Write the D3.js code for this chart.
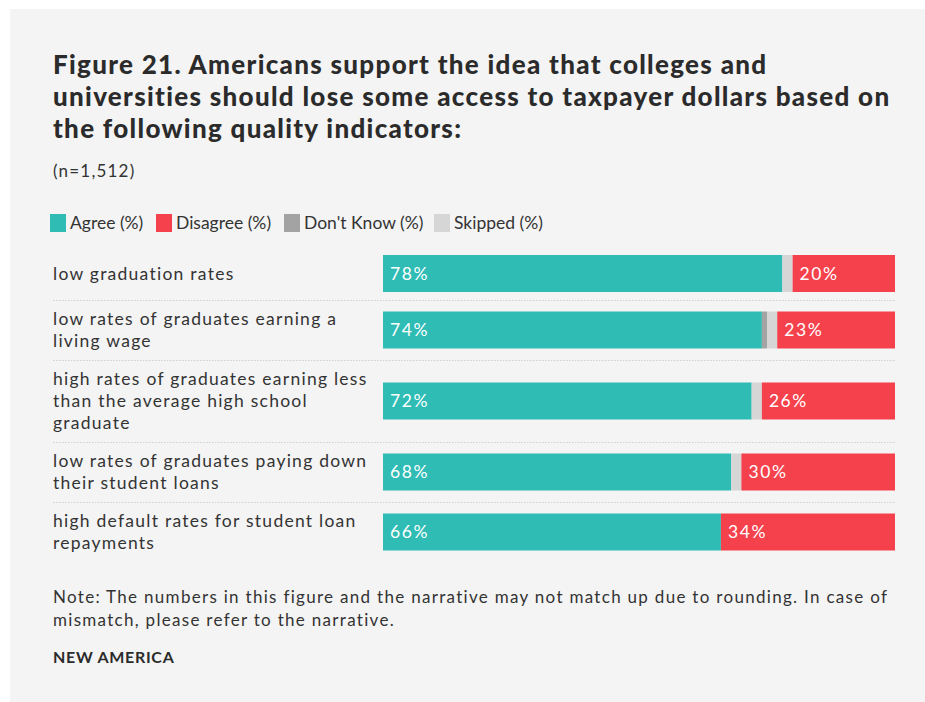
<!DOCTYPE html>
<html>
<head>
<meta charset="utf-8">
<script src="https://cdn.jsdelivr.net/npm/d3@7"></script>
<style>
  html, body { margin: 0; padding: 0; background: #ffffff; }
  svg { display: block; }
  text { font-family: Lato, "Noto Sans", sans-serif; }
</style>
</head>
<body>
<svg id="chart" width="925" height="702"></svg>
<script>
// Survey indicators (label lines separated by "\n")
const categories = [
  "low graduation rates",
  "low rates of graduates earning a\nliving wage",
  "high rates of graduates earning less\nthan the average high school\ngraduate",
  "low rates of graduates paying down\ntheir student loans",
  "high default rates for student loan\nrepayments"
];
const agree     = [78, 74, 72, 68, 66];
const dontKnow  = [0, 1, 0, 0, 0];
const skipped   = [2, 2, 2, 2, 0];
const disagree  = [20, 23, 26, 30, 34];

const seriesNames = ["Agree (%)", "Disagree (%)", "Don't Know (%)", "Skipped (%)"];
const seriesColors = ["#2ebcb4", "#f5414c", "#a3a3a3", "#d6d6d6"];

const titleLines = [
  "Figure 21. Americans support the idea that colleges and",
  "universities should lose some access to taxpayer dollars based on",
  "the following quality indicators:"
];
const subtitle = "(n=1,512)";
const noteLines = [
  "Note: The numbers in this figure and the narrative may not match up due to rounding. In case of",
  "mismatch, please refer to the narrative."
];
const source = "NEW AMERICA";

const svg = d3.select("#chart");
const textColor = "#333333";

// background panel
svg.append("rect").attr("x", 10).attr("y", 9).attr("width", 915).attr("height", 693).attr("fill", "#f4f4f4");

// title
svg.append("g").selectAll("text").data(titleLines).join("text")
  .attr("x", 53).attr("y", (d, i) => 74 + i * 32)
  .attr("fill", "#2b2b2b").attr("font-size", 26).attr("font-weight", 900)
  .attr("letter-spacing", 1.3)
  .text(d => d);

svg.append("text").attr("x", 53).attr("y", 177)
  .attr("fill", textColor).attr("font-size", 17).attr("letter-spacing", 1.2)
  .text(subtitle);

// legend
const legendX = [50, 156, 284, 434];
const legend = svg.append("g").selectAll("g").data(seriesNames).join("g")
  .attr("transform", (d, i) => `translate(${legendX[i]},214)`);
legend.append("rect").attr("width", 16).attr("height", 18).attr("fill", (d, i) => seriesColors[i]);
legend.append("text").attr("x", 20).attr("y", 15)
  .attr("fill", textColor).attr("font-size", 17.5).attr("letter-spacing", 0)
  .text(d => d);

// row layout: height depends on the number of label lines
const lineH = 22, barH = 37, rowPad = 16, rowsTop = 247;
const rows = categories.map((c, i) => {
  const lines = c.split("\n");
  return { i, lines, h: Math.max(barH, lines.length * lineH) + rowPad };
});
let acc = rowsTop;
rows.forEach(r => { r.y0 = acc; acc += r.h; r.cy = r.y0 + r.h / 2; });

const x = d3.scaleLinear().domain([0, 100]).range([383, 895]);

// separators between rows
svg.append("g").selectAll("line").data(rows.slice(1)).join("line")
  .attr("x1", 53).attr("x2", 895)
  .attr("y1", d => d.y0 + 0.5).attr("y2", d => d.y0 + 0.5)
  .attr("stroke", "#cfcfcf").attr("stroke-dasharray", "1.5,1.5");

// category labels
const lab = svg.append("g").selectAll("text").data(rows).join("text")
  .attr("fill", textColor).attr("font-size", 17.5).attr("letter-spacing", 1.25);
lab.selectAll("tspan").data(r => r.lines.map((l, k) => ({ l, k, r }))).join("tspan")
  .attr("x", 53)
  .attr("y", d => d.r.cy - (d.r.lines.length - 1) * lineH / 2 + 6 + d.k * lineH)
  .text(d => d.l);

// stacked bars
const segData = rows.flatMap(r => {
  const vals = [agree[r.i], dontKnow[r.i], skipped[r.i], disagree[r.i]];
  const cols = [seriesColors[0], seriesColors[2], seriesColors[3], seriesColors[1]];
  let s = 0;
  return vals.map((v, k) => {
    const seg = { r, v, start: s, color: cols[k], label: (k === 0 || k === 3) };
    s += v;
    return seg;
  }).filter(d => d.v > 0);
});

const bars = svg.append("g");
bars.selectAll("rect").data(segData).join("rect")
  .attr("x", d => x(d.start)).attr("width", d => x(d.start + d.v) - x(d.start))
  .attr("y", d => d.r.cy - barH / 2).attr("height", barH)
  .attr("fill", d => d.color);

bars.selectAll("text").data(segData.filter(d => d.label)).join("text")
  .attr("x", d => x(d.start) + 7)
  .attr("y", d => d.r.cy + 6)
  .attr("fill", "#ffffff").attr("font-size", 17.5).attr("letter-spacing", 1.6)
  .text(d => d.v + "%");

// note and source
svg.append("g").selectAll("text").data(noteLines).join("text")
  .attr("x", 53).attr("y", (d, i) => 603 + i * 23)
  .attr("fill", textColor).attr("font-size", 17).attr("letter-spacing", 1.3)
  .text(d => d);

svg.append("text").attr("x", 53).attr("y", 663)
  .attr("fill", "#2b2b2b").attr("font-size", 16).attr("font-weight", 700)
  .attr("letter-spacing", 0.7)
  .text(source);
</script>
</body>
</html>
